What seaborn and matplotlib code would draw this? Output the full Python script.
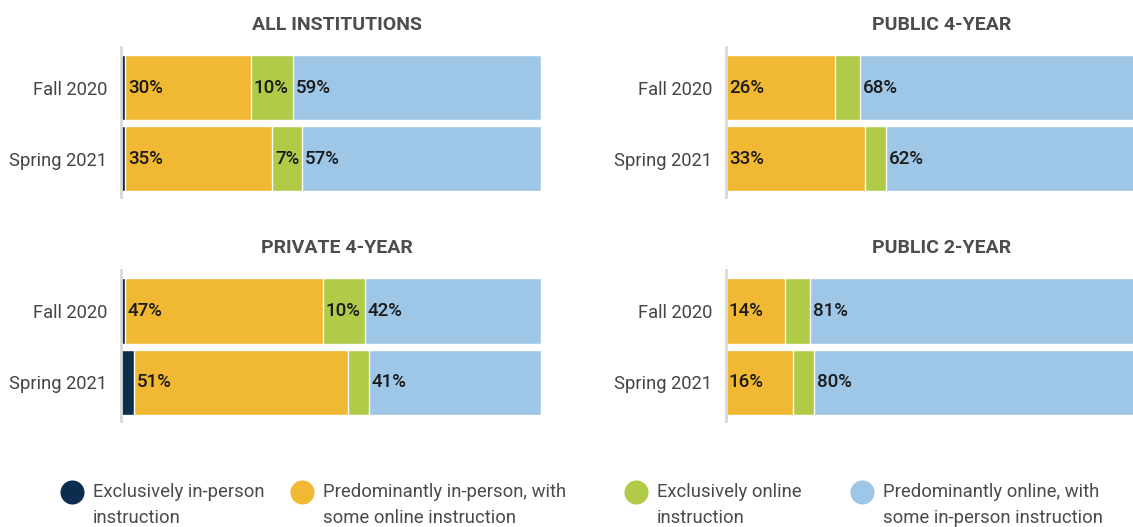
# Instruction mode by institution type, Fall 2020 vs Spring 2021

import numpy as np
import pandas as pd
import matplotlib.pyplot as plt
import seaborn as sns

# Data (percent of institutions)
terms = ["Fall 2020", "Spring 2021"]
panels = ["ALL INSTITUTIONS", "PUBLIC 4-YEAR", "PRIVATE 4-YEAR", "PUBLIC 2-YEAR"]
excl_in_person = [[1, 1], [0, 0], [1, 3], [0, 0]]
pred_in_person = [[30, 35], [26, 33], [47, 51], [14, 16]]
excl_online = [[10, 7], [6, 5], [10, 5], [6, 5]]
pred_online = [[59, 57], [68, 62], [42, 41], [81, 80]]

categories = [
    "Exclusively in-person\ninstruction",
    "Predominantly in-person, with\nsome online instruction",
    "Exclusively online\ninstruction",
    "Predominantly online, with\nsome in-person instruction",
]
colors = ["#0D2D4F", "#F1B933", "#AFCB48", "#9DC6E7"]

sns.set_style("white")
plt.rcParams['font.family'] = ['Roboto', 'DejaVu Sans']

fig = plt.figure(figsize=(11.33, 5.27), dpi=100)
W, H = 1133, 527

# axes boxes in pixels: (left, top, width, height)
boxes = [(121, 47, 420, 150), (726, 47, 420, 150),
         (121, 270, 420, 151), (726, 270, 420, 151)]

for i, name in enumerate(panels):
    l, t, w, h = boxes[i]
    ax = fig.add_axes([l / W, 1 - (t + h) / H, w / W, h / H])
    segs = np.array([excl_in_person[i], pred_in_person[i],
                     excl_online[i], pred_online[i]], dtype=float)
    cum = segs.cumsum(axis=0)
    # draw cumulative totals from the back so each segment overdraws the next
    for k in range(3, -1, -1):
        df = pd.DataFrame({"term": terms, "value": cum[k]})
        sns.barplot(data=df, x="value", y="term", orient="h", color=colors[k],
                    width=0.915, saturation=1, ax=ax)
    # labels at the start of each segment
    for k in range(4):
        for j in range(len(terms)):
            if segs[k, j] >= 7:
                start = cum[k, j] - segs[k, j]
                ax.annotate(f"{int(segs[k, j])}%", (start, j), xytext=(2, 0),
                            textcoords="offset points", ha="left", va="center",
                            fontsize=13.5, fontweight="medium", color="#1a1a1a")
    ax.set_xlim(0, 100)
    ax.set_ylim(1.54, -0.57)
    ax.set_xlabel("")
    ax.set_ylabel("")
    ax.set_xticks([])
    ax.tick_params(axis="y", length=0, pad=10, labelsize=13.2, labelcolor="#444444")
    for s in ["top", "right", "bottom"]:
        ax.spines[s].set_visible(False)
    ax.spines["left"].set_color("#d9d9d9")
    ax.spines["left"].set_linewidth(2)
    ax.set_title(name, fontsize=14, fontweight="bold", color="#4d4d4d", pad=12, x=0.514)

# Legend
lax = fig.add_axes([0, 0, 1, 1])
lax.set_xlim(0, W)
lax.set_ylim(H, 0)
lax.axis("off")
marker_x = [72, 302, 636, 862]
for k in range(4):
    lax.scatter(marker_x[k], 492, s=300, color=colors[k], linewidths=0)
    line1, line2 = categories[k].split("\n")
    lax.text(marker_x[k] + 21, 492, line1, ha="left", va="center",
             fontsize=13.3, color="#4a4a4a")
    lax.text(marker_x[k] + 21, 518, line2, ha="left", va="center",
             fontsize=13.3, color="#4a4a4a")

plt.savefig("out.png", dpi=100)
